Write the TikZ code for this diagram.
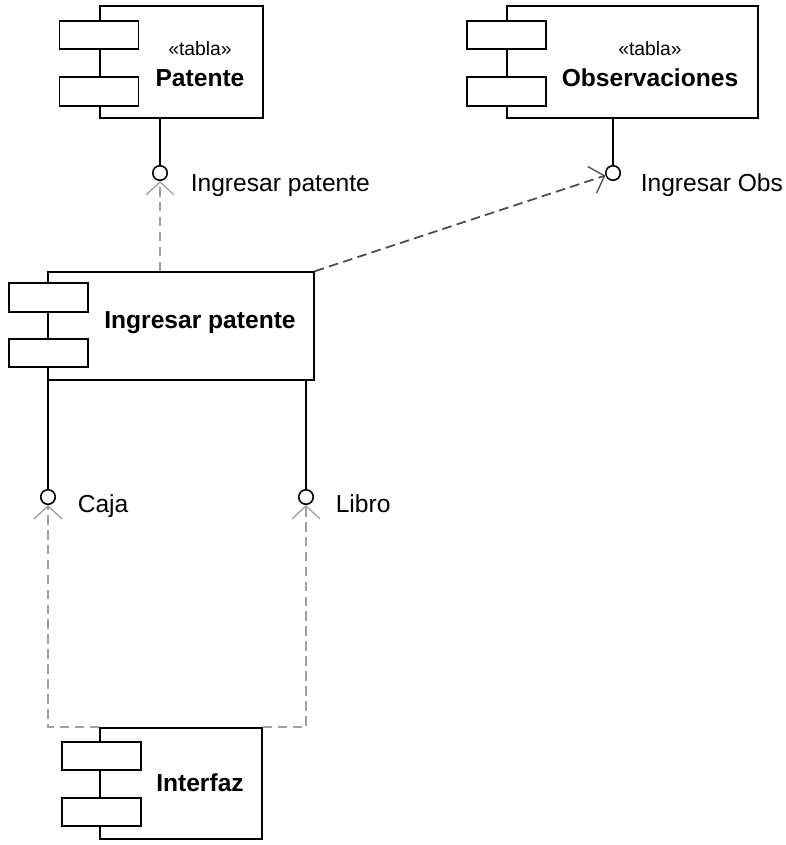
\documentclass[tikz,border=0pt]{standalone}
\usepackage{fontspec}
\setmainfont{Liberation Sans}
\usetikzlibrary{arrows.meta}

\begin{document}
\begin{tikzpicture}[x=0.02cm,y=-0.02cm,line width=.9pt,
    body/.style={draw,rectangle,inner sep=0pt,fill=white},
    port/.style={draw,rectangle,inner sep=0pt,fill=white,minimum width=1.58cm,minimum height=.57cm},
    iface/.style={draw,circle,inner sep=0pt,minimum size=.29cm},
    dep/.style={line width=1pt,dash pattern=on 5.5pt off 3pt,-{Straight Barb[length=.26cm,width=.56cm,line width=.75pt]}},
    lbl/.style={anchor=base west,inner sep=0pt,font=\fontsize{14}{16}\selectfont},
    cname/.style={font=\fontsize{14}{16}\selectfont\bfseries},
    stereo/.style={font=\fontsize{11}{13}\selectfont}]
  \useasboundingbox (0,0) rectangle (786,845);

  % Patente
  \node (pat) at (181.5,62) [body,minimum width=3.26cm,minimum height=2.24cm] {};
  \draw (99,35) node (patp1) [port] {};
  \draw (99,91.5) node (patp2) [port] {};
  \draw (200,49) node (patst) [stereo] {«tabla»};
  \draw (200,78) node (patname) [cname] {Patente};

  % Observaciones
  \node (obs) at (632.5,62) [body,minimum width=5.02cm,minimum height=2.24cm] {};
  \draw (506.5,35) node (obsp1) [port] {};
  \draw (506.5,91.5) node (obsp2) [port] {};
  \draw (650,49) node (obsst) [stereo] {«tabla»};
  \draw (650,78) node (obsname) [cname] {Observaciones};

  % Ingresar patente
  \node (ing) at (181,326) [body,minimum width=5.32cm,minimum height=2.16cm] {};
  \draw (48.5,297.5) node (ingp1) [port] {};
  \draw (48.5,353) node (ingp2) [port] {};
  \draw (200,323) node (ingname) [cname] {Ingresar patente};

  % Interfaz
  \node (gui) at (181,783.5) [body,minimum width=3.24cm,minimum height=2.22cm] {};
  \draw (101.5,756) node (guip1) [port] {};
  \draw (101.5,812) node (guip2) [port] {};
  \draw (200,783) node (guiname) [cname] {Interfaz};

  % provided interfaces
  \node (patif) at (160,173) [iface] {};
  \node (obsif) at (613,173) [iface] {};
  \node (caja) at (48,497) [iface] {};
  \node (libro) at (306,497) [iface] {};
  \draw (190,191) node (patiflbl) [lbl] {Ingresar patente};
  \draw (640,191) node (obsiflbl) [lbl] {Ingresar Obs};
  \draw (77,512) node (cajalbl) [lbl] {Caja};
  \draw (335,512) node (librolbl) [lbl] {Libro};

  \draw (pat.south -| patif) -- (patif);
  \draw (obs.south -| obsif) -- (obsif);
  \draw (ing.south -| caja) -- (caja);
  \draw (ing.south -| libro) -- (libro);

  % dependencies
  \draw[dep,gray!75] (ing.north -| patif) -- (patif);
  \draw[dep,black!70] (ing.north east) -- (obsif);
  \draw[dep,gray!75] (gui.north west) -| (caja);
  \draw[dep,gray!75] (gui.north east) -| (libro);
\end{tikzpicture}
\end{document}
